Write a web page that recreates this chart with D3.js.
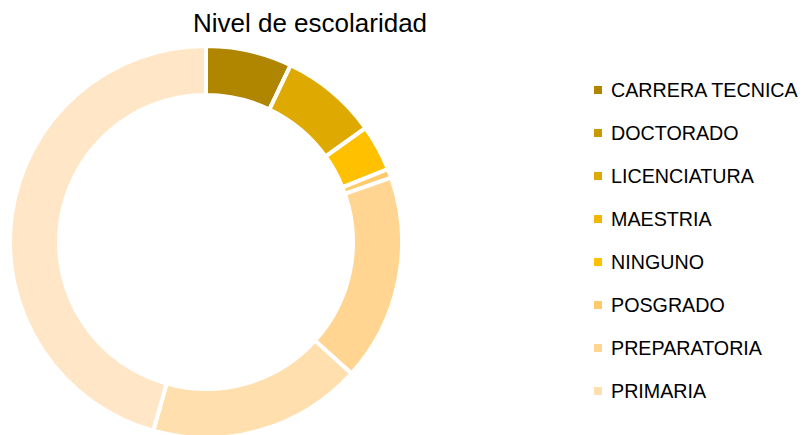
<!DOCTYPE html>
<html>
<head>
<meta charset="utf-8">
<script src="https://cdn.jsdelivr.net/npm/d3@7"></script>
<style>
  body { margin: 0; background: #fff; }
  text { font-family: "Liberation Sans", Arial, sans-serif; fill: #000; }
</style>
</head>
<body>
<div class="chart"></div>
<script>
// slices in data order, clockwise from 12 o'clock
const categories = ["CARRERA TECNICA", "DOCTORADO", "LICENCIATURA", "MAESTRIA", "NINGUNO",
                    "POSGRADO", "PREPARATORIA", "PRIMARIA", "SECUNDARIA"];
const values = [7.1, 0, 8.0, 0, 3.8, 0.75, 17.0, 17.6, 45.6];
// the legend box only had room for the first 8
const legendItems = categories.slice(0, 8);
const palette = ["#b08500", "#c99a00", "#dea900", "#f2b600", "#ffc000",
                 "#ffca6a", "#ffd591", "#ffdfad", "#ffe6c6"];

const width = 804, height = 435;
const cx = 206, cy = 242;

var svg = d3.select(".chart")
  .append("svg")
  .attr("width", width)
  .attr("height", height);

svg.append("text")
  .attr("x", 310)
  .attr("y", 32)
  .attr("text-anchor", "middle")
  .style("font-size", "26px")
  .text("Nivel de escolaridad");

var color = d3.scaleOrdinal()
  .domain(categories)
  .range(palette);

var pie = d3.pie()
  .sort(null)
  .value((d, i) => values[i]);

var arc = d3.arc()
  .innerRadius(147)
  .outerRadius(196);

svg.append("g")
  .attr("transform", "translate(" + cx + "," + cy + ")")
  .selectAll("path")
  .data(pie(categories))
  .enter().append("path")
  .attr("d", arc)
  .attr("fill", d => color(d.data))
  .attr("stroke", "#fff")
  .attr("stroke-width", 4)
  .attr("stroke-linejoin", "miter");

// legend
var y = d3.scalePoint()
  .domain(legendItems)
  .range([90, 391]);

var leg = svg.append("g")
  .selectAll("g")
  .data(legendItems)
  .enter().append("g")
  .attr("transform", d => "translate(594," + y(d) + ")");

leg.append("rect")
  .attr("x", 0)
  .attr("y", -4)
  .attr("width", 8)
  .attr("height", 8)
  .attr("fill", d => color(d));

leg.append("text")
  .attr("x", 17)
  .attr("y", 7)
  .style("font-size", "19.7px")
  .text(d => d);
</script>
</body>
</html>
